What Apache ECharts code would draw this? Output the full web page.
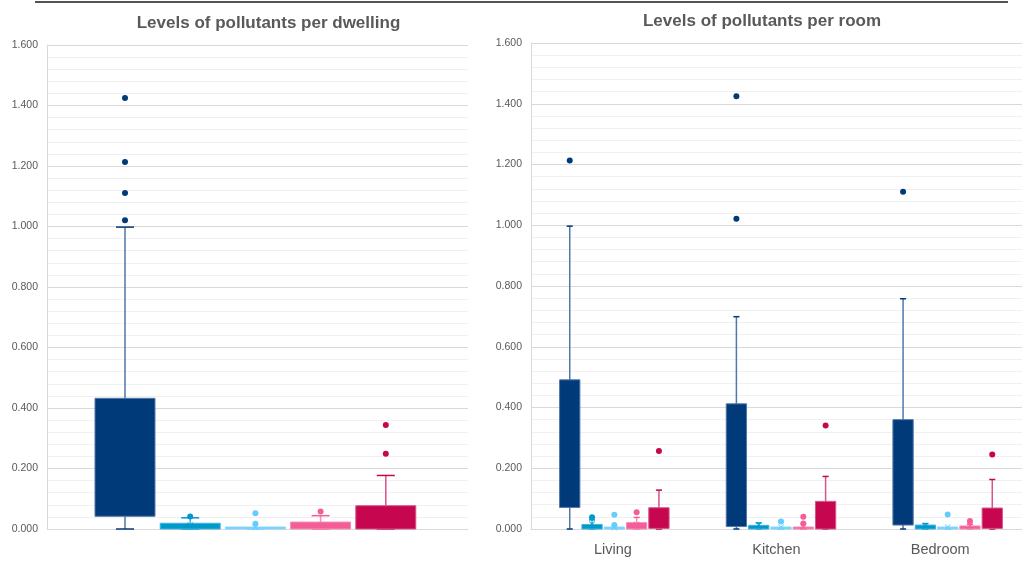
<!DOCTYPE html>
<html><head><meta charset="utf-8">
<script src="https://cdn.jsdelivr.net/npm/echarts@6/dist/echarts.min.js"></script>
<style>html,body{margin:0;padding:0;background:#fff}#c{width:1022px;height:561px}</style>
</head><body><div id="c"></div>
<script>
// ---- data ----
const pollutants = ['Pollutant 1','Pollutant 2','Pollutant 3','Pollutant 4','Pollutant 5'];
const rooms = ['Living','Kitchen','Bedroom'];
const titles = ['Levels of pollutants per dwelling','Levels of pollutants per room'];
const yMin = 0, yMax = 1.6, yStep = 0.2, yMinorSplit = 5;

// [min, Q1, median, Q3, max] per pollutant
const dwellingStats = [
  [0, 0.042, 0.20, 0.432, 0.998],
  [0, 0, 0.008, 0.019, 0.037],
  [0, 0, 0.001, 0.003, 0.004],
  [0, 0, 0.008, 0.023, 0.044],
  [0, 0, 0.030, 0.077, 0.177]
];
const dwellingOutliers = [[1.425, 1.213, 1.111, 1.021], [0.041], [0.052, 0.017], [0.058], [0.344, 0.249]];
const dwellingMeans = [0.30, 0.012, 0.006, 0.012, 0.05];

const livingStats = [
  [0, 0.071, 0.25, 0.491, 0.997],
  [0, 0, 0.008, 0.015, 0.030],
  [0, 0, 0.001, 0.003, 0.005],
  [0, 0, 0.010, 0.021, 0.038],
  [0, 0.002, 0.030, 0.070, 0.128]
];
const livingOutliers = [[1.213], [0.039], [0.047, 0.013], [0.055], [0.257]];
const livingMeans = [0.30, 0.016, 0.005, 0.015, 0.05];

const kitchenStats = [
  [0, 0.008, 0.20, 0.412, 0.699],
  [0, 0, 0.006, 0.012, 0.020],
  [0, 0, 0.001, 0.002, 0.003],
  [0, 0, 0.001, 0.003, 0.005],
  [0, 0, 0.030, 0.091, 0.173]
];
const kitchenOutliers = [[1.425, 1.021], [], [0.025], [0.040, 0.018], [0.341]];
const kitchenMeans = [0.25, 0.014, 0.006, 0.008, 0.05];

const bedroomStats = [
  [0, 0.013, 0.20, 0.360, 0.758],
  [0, 0, 0.006, 0.013, 0.018],
  [0, 0, 0.001, 0.003, 0.004],
  [0, 0, 0.004, 0.010, 0.015],
  [0, 0.002, 0.030, 0.069, 0.163]
];
const bedroomOutliers = [[1.110], [], [0.048], [0.026], [0.245]];
const bedroomMeans = [0.22, 0.010, 0.006, 0.012, 0.05];

// ---- styles ----
const boxFill = ['#003A78', '#0099CC', '#66CCFF', '#F45E98', '#C6074F'];
const boxLine = ['#4F77A8', '#40B2DB', '#90D9FF', '#F58DB6', '#D5558A'];
const textColor = '#595959';
const FONT = '"Liberation Sans", Arial, sans-serif';

const LF = {left: 47, top: 45, width: 421, height: 484};
const LB = {left: 92.4, width: 326};
const RF = {left: 531, top: 43, width: 500, height: 486};
const RB_W = 111.5;

function fmt(v) { return v.toFixed(3); }

function renderBox(ratio, capRatio) {
  return function (params, api) {
    const p = api.value(0);
    const band = api.size([1, 0])[0];
    const w = band * ratio, cw = w * capRatio;
    const pt = v => api.coord([p, v]);
    const lo = pt(api.value(1)), q1 = pt(api.value(2)), q3 = pt(api.value(4)), hi = pt(api.value(5));
    const x = lo[0];
    const ls = {stroke: boxLine[p], lineWidth: 1.5};
    const cs = {stroke: boxFill[p], lineWidth: 1.5};
    const h = Math.max(q1[1] - q3[1], 2);
    return {type: 'group', children: [
      {type: 'line', shape: {x1: x, y1: q3[1], x2: x, y2: hi[1]}, style: ls},
      {type: 'line', shape: {x1: x - cw / 2, y1: hi[1], x2: x + cw / 2, y2: hi[1]}, style: cs},
      {type: 'line', shape: {x1: x, y1: q1[1], x2: x, y2: lo[1]}, style: ls},
      {type: 'line', shape: {x1: x - cw / 2, y1: lo[1], x2: x + cw / 2, y2: lo[1]}, style: cs},
      {type: 'rect', shape: {x: x - w / 2, y: q1[1] - h, width: w, height: h},
       style: {fill: boxFill[p], stroke: boxLine[p], lineWidth: 1}}
    ]};
  };
}

const xMark = 'path://M0,1L1,0L5,4L9,0L10,1L6,5L10,9L9,10L5,6L1,10L0,9L4,5Z';

function seriesFor(idx, stats, outliers, means, ratio) {
  const out = [];
  outliers.forEach((arr, p) => arr.forEach(v => out.push({value: [p, v], itemStyle: {color: boxFill[p], opacity: 1}})));
  return [
    {type: 'custom', xAxisIndex: idx, yAxisIndex: idx, renderItem: renderBox(ratio, 0.3),
     encode: {x: 0, y: [1, 2, 3, 4, 5]}, clip: false, silent: true,
     data: stats.map((s, p) => [p].concat(s))},
    {type: 'scatter', xAxisIndex: idx, yAxisIndex: idx, symbol: 'circle', symbolSize: 6, silent: true,
     itemStyle: {opacity: 1}, data: out},
    {type: 'scatter', xAxisIndex: idx, yAxisIndex: idx, symbol: xMark, symbolSize: 6, silent: true,
     itemStyle: {opacity: 1},
     data: means.map((v, p) => ({value: [p, v], itemStyle: {color: boxFill[p], opacity: 1}}))}
  ];
}

const visYAxis = (grid) => ({
  type: 'value', gridIndex: grid, min: yMin, max: yMax, interval: yStep,
  axisLine: {show: true, lineStyle: {color: '#d9d9d9'}},
  axisTick: {show: false},
  axisLabel: {formatter: fmt, color: textColor, fontSize: 10.5, fontFamily: FONT, margin: 9},
  splitLine: {show: true, lineStyle: {color: '#d9d9d9', width: 1}},
  minorTick: {show: false, splitNumber: yMinorSplit},
  minorSplitLine: {show: true, lineStyle: {color: '#f0f0f0', width: 1}}
});
const hidYAxis = (grid) => ({type: 'value', gridIndex: grid, min: yMin, max: yMax, show: false,
  splitLine: {show: false}});
const hidXAxis = (grid) => ({type: 'category', gridIndex: grid, data: pollutants, show: false});

const roomCenters = rooms.map((r, i) => RF.left + (i + 0.5) * RF.width / rooms.length);

const grids = [
  {left: LF.left, top: LF.top, width: LF.width, height: LF.height},
  {left: LB.left, top: LF.top, width: LB.width, height: LF.height},
  {left: RF.left, top: RF.top, width: RF.width, height: RF.height}
].concat(roomCenters.map(c => ({left: c - RB_W / 2, top: RF.top, width: RB_W, height: RF.height})));

const xAxes = [
  {type: 'category', gridIndex: 0, data: [''], axisLine: {lineStyle: {color: '#d9d9d9'}},
   axisTick: {show: false}, axisLabel: {show: false}},
  hidXAxis(1),
  {type: 'category', gridIndex: 2, data: rooms, axisLine: {lineStyle: {color: '#d9d9d9'}},
   axisTick: {show: false}, axisLabel: {color: textColor, fontSize: 14.5, fontFamily: FONT, margin: 13}},
  hidXAxis(3), hidXAxis(4), hidXAxis(5)
];
const yAxes = [visYAxis(0), hidYAxis(1), visYAxis(2), hidYAxis(3), hidYAxis(4), hidYAxis(5)];

const series = [].concat(
  seriesFor(1, dwellingStats, dwellingOutliers, dwellingMeans, 0.92),
  seriesFor(3, livingStats, livingOutliers, livingMeans, 0.91),
  seriesFor(4, kitchenStats, kitchenOutliers, kitchenMeans, 0.91),
  seriesFor(5, bedroomStats, bedroomOutliers, bedroomMeans, 0.91)
);

const chart = echarts.init(document.getElementById('c'), null, {renderer: 'canvas'});
chart.setOption({
  animation: false,
  backgroundColor: '#fff',
  grid: grids,
  xAxis: xAxes,
  yAxis: yAxes,
  series: series,
  graphic: [
    {type: 'line', shape: {x1: 35, y1: 2, x2: 1008, y2: 2}, style: {stroke: '#1a1a1a', lineWidth: 1.6}},
    {type: 'text', x: LF.left + LF.width / 2 + 11, y: 23, style: {text: titles[0], fill: textColor,
      font: 'bold 17px ' + FONT, align: 'center', verticalAlign: 'middle'}},
    {type: 'text', x: 762, y: 21, style: {text: titles[1], fill: textColor,
      font: 'bold 17px ' + FONT, align: 'center', verticalAlign: 'middle'}}
  ]
});
</script>
</body></html>
